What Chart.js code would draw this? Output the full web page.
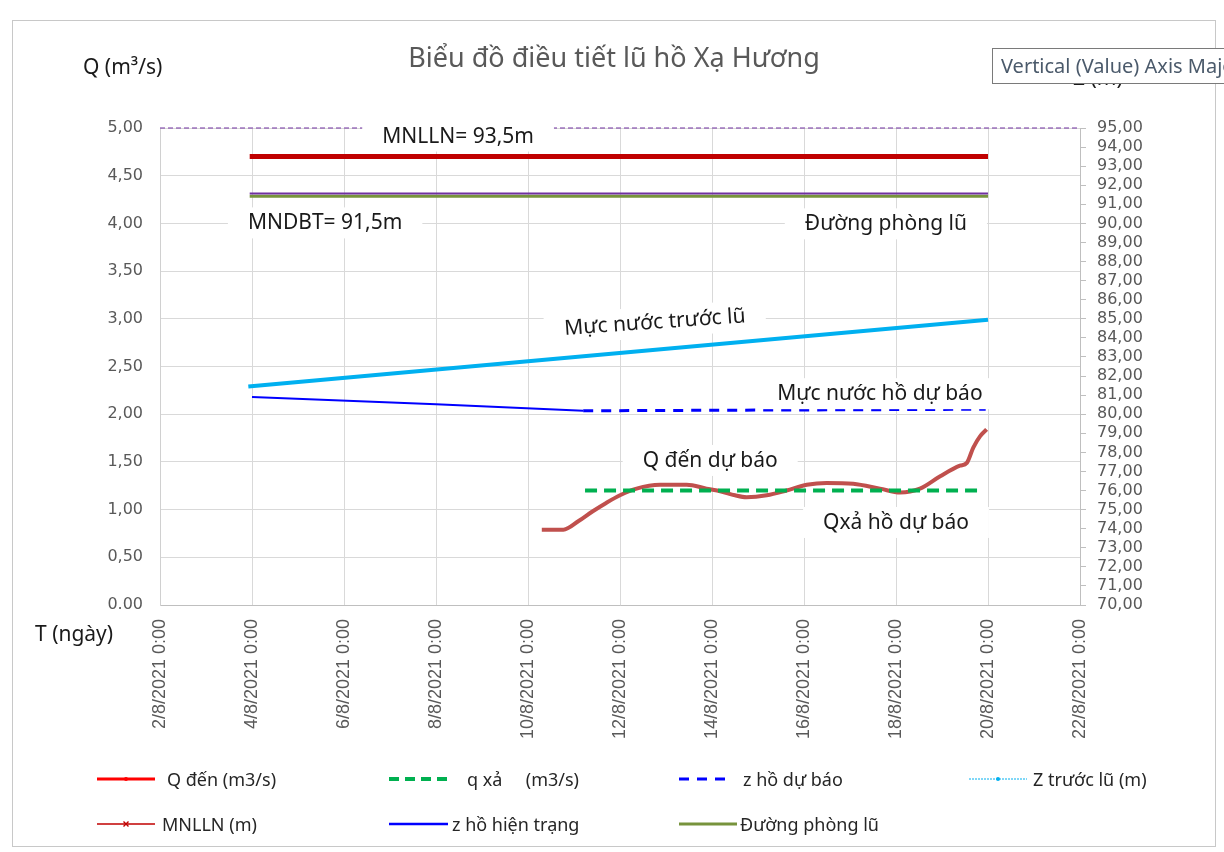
<!DOCTYPE html>
<html lang="vi">
<head>
<meta charset="utf-8">
<title>Biểu đồ điều tiết lũ hồ Xạ Hương</title>
<script src="https://cdn.jsdelivr.net/npm/chart.js@4.4.1/dist/chart.umd.min.js"></script>
<style>
  html, body { margin: 0; padding: 0; background: #fff; overflow: hidden; }
  #wrap { position: relative; width: 1224px; height: 852px; font-family: "Noto Sans", sans-serif; }
  #floodChart { position: absolute; left: 0; top: 0; }
  .frame { position: absolute; left: 12px; top: 20px; width: 1202px; height: 825px; border: 1px solid #c8c8c8; pointer-events: none; }
  .lbl { position: absolute; white-space: pre; line-height: 1; }
  #title { left: 0; width: 1228px; top: 43px; text-align: center; font-size: 27px; color: #595959; }
  #qTitle { left: 83px; top: 56px; font-size: 21px; color: #1a1a1a; }
  #tTitle { left: 35px; top: 623px; font-size: 21px; color: #1a1a1a; }
  #zTitle { left: 1073px; top: 67px; font-size: 21px; color: #1a1a1a; }
  #tip { position: absolute; left: 992px; top: 48px; width: 260px; height: 34px; border: 1px solid #7a7a7a; background: #fff;
         font-size: 20px; line-height: 34px; padding-left: 8px; color: #4b5a6b; white-space: nowrap; overflow: hidden; }
  #legend { position: absolute; left: 97px; top: 767px; display: grid; grid-template-columns: 292px 290px 290px 250px; row-gap: 21px; }
  .item { display: flex; align-items: center; height: 24px; font-size: 18px; color: #262626; white-space: pre; }
  .item svg { flex: none; }
</style>
</head>
<body>
<div id="wrap">
  <canvas id="floodChart" width="1224" height="852"></canvas>
  <div class="frame"></div>
  <div class="lbl" id="title">Biểu đồ điều tiết lũ hồ Xạ Hương</div>
  <div class="lbl" id="qTitle">Q (m³/s)</div>
  <div class="lbl" id="tTitle">T (ngày)</div>
  <div class="lbl" id="zTitle">Z (m)</div>
  <div id="tip">Vertical (Value) Axis Major Gridlines</div>
  <div id="legend"></div>
</div>
<script>
// Trục thời gian: ngày trong tháng 8/2021
const xTicks = [2, 4, 6, 8, 10, 12, 14, 16, 18, 20, 22];

// Q đến dự báo (m3/s) - trục trái
const qDenDays = [10.30, 10.77, 11.10, 11.40, 11.70, 12.00, 12.36, 12.87, 13.45, 13.88, 14.20, 14.50, 14.75, 15.19, 15.62, 16.06, 16.49, 17.07, 17.65, 18.09, 18.52, 18.96, 19.39, 19.54, 19.68, 19.83, 19.97];
const qDenValues = [0.79, 0.79, 0.88, 0.98, 1.07, 1.15, 1.22, 1.26, 1.26, 1.22, 1.19, 1.15, 1.13, 1.15, 1.20, 1.26, 1.28, 1.27, 1.22, 1.18, 1.22, 1.35, 1.46, 1.49, 1.65, 1.77, 1.84];

// q xả dự báo (m3/s)
const qXaDays = [11.24, 19.9];
const qXaValues = [1.2, 1.2];

// Mực nước (m) - trục phải
const zDuBaoDays = [11.2, 19.95];
const zDuBaoValues = [80.18, 80.26];
const zTruocLuDays = [3.92, 20];
const zTruocLuValues = [81.45, 84.95];
const zHienTrangDays = [4, 8, 11.2];
const zHienTrangValues = [80.9, 80.52, 80.18];
const levelDays = [3.95, 20];
const mnllnValues = [93.5, 93.5];
const phongLuValues = [91.42, 91.42];
const mndbtValues = [91.57, 91.57];
const topDays = [2, 22];
const topValues = [95, 95];

const pts = (xs, ys) => xs.map((d, i) => ({ x: d, y: ys[i] }));
const fmt = v => v.toFixed(2).replace('.', ',');

// Ghi chú trên biểu đồ
const noteLabels = [
  { text: 'MNLLN= 93,5m', day: 8.48, q: 4.91 },
  { text: 'MNDBT= 91,5m', day: 5.59, q: 4.0 },
  { text: 'Đường phòng lũ', day: 17.78, q: 3.99 },
  { text: 'Mực nước trước lũ', day: 12.76, q: 2.96, angle: -4 },
  { text: 'Mực nước hồ dự báo', day: 17.65, q: 2.21 },
  { text: 'Q đến dự báo', day: 13.96, q: 1.51 },
  { text: 'Qxả hồ dự báo', day: 18.0, q: 0.86 }
];

const notesPlugin = {
  id: 'notes',
  afterDatasetsDraw(chart) {
    const { ctx, scales: { x, yQ } } = chart;
    ctx.save();
    ctx.font = '21px "Noto Sans"';
    ctx.textAlign = 'center';
    ctx.textBaseline = 'middle';
    noteLabels.forEach(n => {
      const w = ctx.measureText(n.text).width;
      ctx.save();
      ctx.translate(x.getPixelForValue(n.day), yQ.getPixelForValue(n.q));
      ctx.rotate((n.angle || 0) * Math.PI / 180);
      ctx.fillStyle = '#fff';
      ctx.fillRect(-w / 2 - 20, -16, w + 40, 31);
      ctx.fillStyle = '#1a1a1a';
      ctx.fillText(n.text, 0, 0);
      ctx.restore();
    });
    ctx.restore();
  }
};

function sampleSvg(s) {
  const w = s.len, y = 8;
  let svg = `<svg width="${w}" height="16"><line x1="0" y1="${y}" x2="${w}" y2="${y}" stroke="${s.color}" stroke-width="${s.width}"` +
    (s.dash ? ` stroke-dasharray="${s.dash}"` : '') + '/>';
  if (s.marker === 'dot') svg += `<circle cx="${w / 2}" cy="${y}" r="2" fill="${s.color}"/>`;
  if (s.marker === 'cross') {
    const c = w / 2;
    svg += `<path d="M${c - 2.5} ${y - 2.5}L${c + 2.5} ${y + 2.5}M${c + 2.5} ${y - 2.5}L${c - 2.5} ${y + 2.5}" stroke="${s.color}" stroke-width="1.4"/>`;
  }
  return svg + '</svg>';
}

const htmlLegend = {
  id: 'htmlLegend',
  afterUpdate(chart) {
    const box = document.getElementById('legend');
    box.innerHTML = '';
    chart.data.datasets.filter(ds => ds.sample).forEach(ds => {
      const item = document.createElement('div');
      item.className = 'item';
      item.innerHTML = sampleSvg(ds.sample) + `<span style="margin-left:${ds.sample.gap}px"></span>`;
      item.querySelector('span').textContent = ds.label;
      box.appendChild(item);
    });
  }
};

const datasets = [
  { label: 'Q đến (m3/s)', data: pts(qDenDays, qDenValues), yAxisID: 'yQ', borderColor: '#C0504D', borderWidth: 4,
    cubicInterpolationMode: 'monotone', order: 3,
    sample: { len: 58, color: '#FF0000', width: 3, marker: 'dot', gap: 12 } },
  { label: 'q xả     (m3/s)', data: pts(qXaDays, qXaValues), yAxisID: 'yQ', borderColor: '#00B050', borderWidth: 4,
    borderDash: [12, 7], order: 0,
    sample: { len: 60, color: '#00B050', width: 4, dash: '10 6', gap: 18 } },
  { label: 'z hồ dự báo', data: pts(zDuBaoDays, zDuBaoValues), yAxisID: 'yZ', borderColor: '#0000FF', borderWidth: 3,
    borderDash: [10, 8], order: 4,
    sample: { len: 54, color: '#0000FF', width: 3, dash: '10 8', gap: 10 } },
  { label: 'Z trước lũ (m)', data: pts(zTruocLuDays, zTruocLuValues), yAxisID: 'yZ', borderColor: '#00B0F0', borderWidth: 4,
    order: 5,
    sample: { len: 58, color: '#00B0F0', width: 1, dash: '2 1', marker: 'dot', gap: 6 } },
  { label: 'MNLLN (m)', data: pts(levelDays, mnllnValues), yAxisID: 'yZ', borderColor: '#C00000', borderWidth: 5,
    order: 6,
    sample: { len: 58, color: '#C00000', width: 1.5, marker: 'cross', gap: 7 } },
  { label: 'z hồ hiện trạng', data: pts(zHienTrangDays, zHienTrangValues), yAxisID: 'yZ', borderColor: '#0000FF', borderWidth: 2,
    order: 4,
    sample: { len: 59, color: '#0000FF', width: 2.5, gap: 4 } },
  { label: 'Đường phòng lũ', data: pts(levelDays, phongLuValues), yAxisID: 'yZ', borderColor: '#77933C', borderWidth: 3,
    order: 2,
    sample: { len: 58, color: '#77933C', width: 3, gap: 3 } },
  { label: 'MNDBT (m)', data: pts(levelDays, mndbtValues), yAxisID: 'yZ', borderColor: '#7030A0', borderWidth: 2, order: 1 },
  { label: 'Đỉnh (m)', data: pts(topDays, topValues), yAxisID: 'yZ', borderColor: '#7030A0', borderWidth: 1,
    borderDash: [5, 3], order: 7 }
];
datasets.forEach(ds => { ds.pointRadius = 0; ds.fill = false; ds.clip = 6; });

const gridColor = '#d9d9d9';
const tickFont = { family: '"DejaVu Sans"', size: 16 };

new Chart(document.getElementById('floodChart'), {
  type: 'line',
  data: { datasets },
  plugins: [notesPlugin, htmlLegend],
  options: {
    responsive: false,
    animation: false,
    devicePixelRatio: 1,
    layout: { padding: { top: 128, left: 0, right: 0, bottom: 0 } },
    plugins: { legend: { display: false }, tooltip: { enabled: false }, title: { display: false } },
    scales: {
      x: {
        type: 'linear', min: 2, max: 22,
        afterBuildTicks: s => { s.ticks = xTicks.map(v => ({ value: v })); },
        afterFit: s => { s.height = 247; },
        grid: { color: gridColor, drawTicks: false },
        border: { color: '#bfbfbf' },
        ticks: {
          autoSkip: false, minRotation: 90, maxRotation: 90, padding: 14,
          color: '#595959', font: { family: '"Liberation Sans"', size: 18 },
          callback: v => `${v}/8/2021 0:00`
        }
      },
      yQ: {
        position: 'left', min: 0, max: 5,
        afterFit: s => { s.width = 160; },
        grid: { color: gridColor, drawTicks: false },
        border: { color: '#d0d0d0' },
        ticks: { stepSize: 0.5, padding: 17, color: '#595959', font: tickFont,
          callback: v => v === 0 ? '0.00' : fmt(v) }
      },
      yZ: {
        position: 'right', min: 70, max: 95,
        afterFit: s => { s.width = 144; },
        grid: { drawOnChartArea: false, drawTicks: true, tickLength: 6, color: '#bfbfbf' },
        border: { color: '#bfbfbf' },
        ticks: { stepSize: 1, autoSkip: false, padding: 11, color: '#595959', font: tickFont, callback: v => fmt(v) }
      }
    }
  }
});
</script>
</body>
</html>
